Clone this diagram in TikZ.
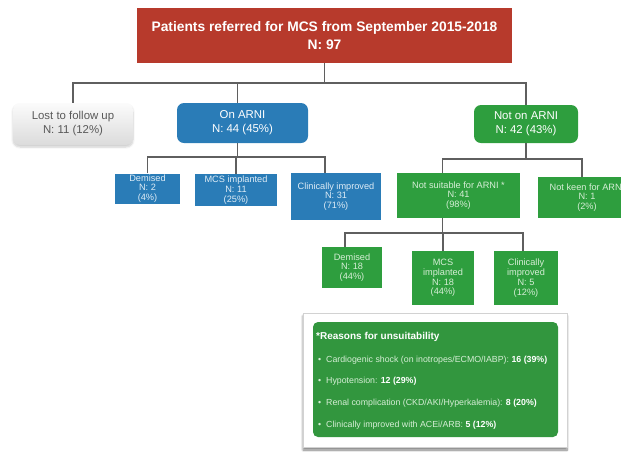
\documentclass[tikz,border=0pt]{standalone}
\usepackage{fontspec}
\setmainfont{Liberation Sans}
\usetikzlibrary{shadows.blur}
\definecolor{hdrred}{RGB}{183,58,44}
\definecolor{arniblue}{RGB}{42,124,183}
\definecolor{arnigreen}{RGB}{46,158,62}
\definecolor{boxgreen}{RGB}{50,150,62}
\definecolor{linegray}{RGB}{95,95,95}
\definecolor{paletext}{RGB}{222,236,246}
\definecolor{palegreen}{RGB}{214,238,214}
\begin{document}
\begin{tikzpicture}[x=1pt,y=-1pt,
  conn/.style={draw=linegray,line width=1.1pt},
  headbox/.style={fill=hdrred,text=white,align=center,inner sep=0pt,
    font=\fontsize{13.8}{18}\selectfont\bfseries},
  midbox/.style={rounded corners=7pt,text=white,align=center,inner sep=0pt,
    font=\fontsize{11.4}{14}\selectfont},
  smallbox/.style={align=center,inner sep=0pt,
    font=\fontsize{9.2}{9.8}\selectfont},
  bluebox/.style={smallbox,fill=arniblue,text=paletext},
  greenbox/.style={smallbox,fill=arnigreen,text=palegreen},
  reasontext/.style={anchor=west,inner sep=0pt,text=palegreen,
    font=\fontsize{8.8}{10}\selectfont},
  sz/.style 2 args={minimum width=#1pt,minimum height=#2pt}]
\useasboundingbox (0,0) rectangle (621,451);

% header
\node[headbox,sz={375}{55}] (top) at (324.5,35.5)
  {Patients referred for MCS from September 2015-2018\\N: 97};

% first level
\node[midbox,sz={120}{42},top color=white!97!gray,bottom color=gray!28,
      text=black!65,blur shadow={shadow xshift=0pt,shadow yshift=-2pt,shadow blur steps=6,shadow opacity=20}]
  (lost) at (73,124) {Lost to follow up\\N: 11 (12\%)};
\node[midbox,sz={131}{40},fill=arniblue] (onarni) at (242.5,123)
  {On ARNI\\N: 44 (45\%)};
\node[midbox,sz={104}{38},fill=arnigreen] (notarni) at (526,124)
  {Not on ARNI\\N: 42 (43\%)};

% children of On ARNI
\node[bluebox,sz={65}{30}] (demA) at (147.5,188.5) {Demised\\N: 2\\(4\%)};
\node[bluebox,sz={82}{32}] (mcsA) at (236,190) {MCS implanted\\N: 11\\(25\%)};
\node[bluebox,sz={90}{47}] (climA) at (336,196.5) {Clinically improved\\N: 31\\(71\%)};

% children of Not on ARNI (the last box runs off the right edge)
\node[greenbox,sz={123}{45}] (notsuit) at (458.5,195.5) {Not suitable for ARNI *\\N: 41\\(98\%)};
\node[greenbox,sz={98}{41}] (notkeen) at (587,197.5) {Not keen for ARNI\\N: 1\\(2\%)};

% children of Not suitable
\node[greenbox,sz={60}{41}] (demB) at (352,267.5) {Demised\\N: 18\\(44\%)};
\node[greenbox,sz={62}{54}] (mcsB) at (443,278) {MCS\\implanted\\N: 18\\(44\%)};
\node[greenbox,sz={64}{54}] (climB) at (526,278) {Clinically\\improved\\N: 5\\(12\%)};

% connectors
\coordinate (busA) at (0,83);
\coordinate (busB) at (0,157);
\coordinate (busC) at (0,159);
\coordinate (busD) at (0,233);
\draw[conn] (top.south) -- (top.south |- busA);
\draw[conn] (lost.north) -- (lost.north |- busA) -- (notarni.north |- busA) -- (notarni.north);
\draw[conn] ([xshift=-5pt]onarni.north) -- ([xshift=-5pt]onarni.north |- busA);

\draw[conn] ([xshift=-5pt]onarni.south) -- ([xshift=-5pt]onarni.south |- busB);
\draw[conn] (demA.north) -- (demA.north |- busB) -- ([xshift=-11pt]climA.north |- busB) -- ([xshift=-11pt]climA.north);
\draw[conn] (mcsA.north) -- (mcsA.north |- busB);

\draw[conn] (notarni.south) -- (notarni.south |- busC);
\draw[conn] ([xshift=-16pt]notsuit.north) -- ([xshift=-16pt]notsuit.north |- busC) -- ([xshift=-5pt]notkeen.north |- busC) -- ([xshift=-5pt]notkeen.north);

\draw[conn] ([xshift=-16pt]notsuit.south) -- ([xshift=-16pt]notsuit.south |- busD);
\draw[conn] ([xshift=-7pt]demB.north) -- ([xshift=-7pt]demB.north |- busD) -- ([xshift=-3pt]climB.north |- busD) -- ([xshift=-3pt]climB.north);
\draw[conn] (mcsB.north) -- (mcsB.north |- busD);

% reasons panel
\node[draw=gray!35,fill=white,line width=0.6pt,sz={264}{134},inner sep=0pt,
      blur shadow={shadow xshift=0pt,shadow yshift=-3pt,shadow blur steps=8,shadow opacity=50}]
  (panel) at (435,380) {};
\node[fill=boxgreen,rounded corners=5pt,sz={245}{115},inner sep=0pt] (inner) at (435.5,379.5) {};
\node[reasontext,text=white,font=\fontsize{10}{11}\selectfont\bfseries] (rtitle) at (316,337) {*Reasons for unsuitability};
\node[reasontext] (r1) at (318,360) {\textbullet\ \ Cardiogenic shock (on inotropes/ECMO/IABP): \textcolor{white}{\bfseries 16 (39\%)}};
\node[reasontext] (r2) at (318,381) {\textbullet\ \ Hypotension: \textcolor{white}{\bfseries 12 (29\%)}};
\node[reasontext] (r3) at (318,403) {\textbullet\ \ Renal complication (CKD/AKI/Hyperkalemia): \textcolor{white}{\bfseries 8 (20\%)}};
\node[reasontext] (r4) at (318,425) {\textbullet\ \ Clinically improved with ACEi/ARB: \textcolor{white}{\bfseries 5 (12\%)}};
\end{tikzpicture}
\end{document}
